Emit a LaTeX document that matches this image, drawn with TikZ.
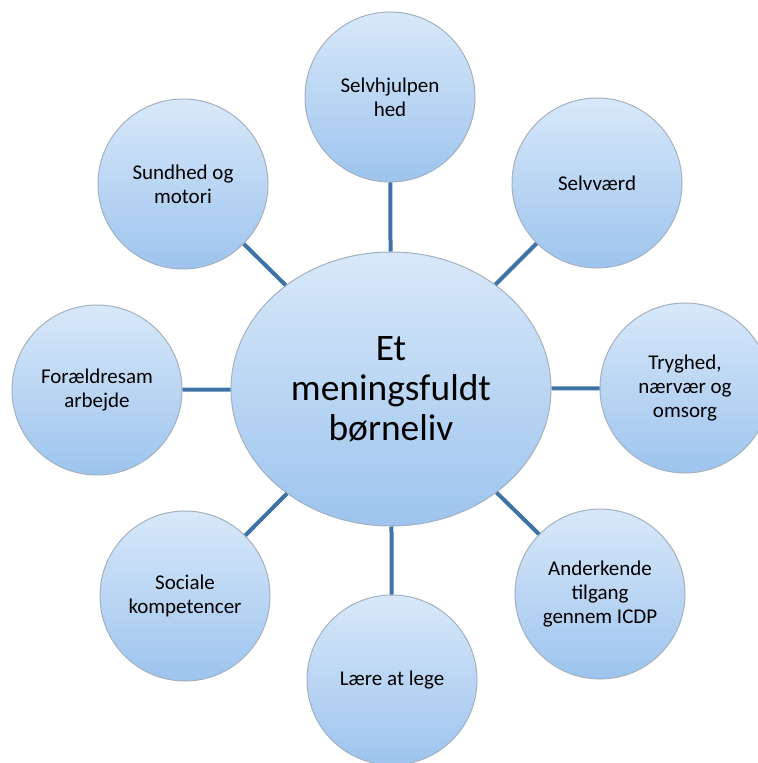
\documentclass[tikz,border=0pt]{standalone}
\usepackage{fontspec}
\setmainfont{Carlito}
\usetikzlibrary{positioning}
\usetikzlibrary{shapes.geometric}
\definecolor{balltop}{HTML}{D8E8F9}
\definecolor{ballbot}{HTML}{9DC4EE}
\definecolor{ballrim}{HTML}{A3B1C0}
\definecolor{linkblue}{HTML}{3F72A6}

\begin{document}
\begin{tikzpicture}[x=0.5pt,y=-0.5pt,
	ball/.style={circle,draw=ballrim,line width=0.5pt,top color=balltop,bottom color=ballbot,
		minimum size=85pt,inner sep=0pt,align=center,font=\fontsize{10.5}{12}\selectfont},
	hub/.style={ellipse,draw=ballrim,line width=0.5pt,top color=balltop,bottom color=ballbot,
		minimum width=160pt,minimum height=137pt,inner sep=0pt,align=center,font=\fontsize{18.7}{20}\selectfont},
	link/.style={draw=linkblue,line width=2pt}
	]
	\useasboundingbox (0,0) rectangle (757,763);
	\node [hub] (hub)		at (391,389)	{Et\\meningsfuldt\\børneliv};
	\node [ball] (selvhjulp)	at (390,97)	{Selvhjulpen\\hed};
	\node [ball] (selvvaerd)	at (597,183)	{Selvværd};
	\node [ball] (tryghed)	at (685,388)	{Tryghed,\\nærvær og\\omsorg};
	\node [ball] (anerkend)	at (600,594)	{Anderkende\\tilgang\\gennem ICDP};
	\node [ball] (leg)		at (392,680)	{Lære at lege};
	\node [ball] (sociale)	at (185,596)	{Sociale\\kompetencer};
	\node [ball] (foraeldre)	at (97,390)	{Forældresam\\arbejde};
	\node [ball] (sundhed)	at (183,184)	{Sundhed og\\motori};

	\draw [link] (hub) to (selvhjulp);
	\draw [link] (hub) to (selvvaerd);
	\draw [link] (hub) to (tryghed);
	\draw [link] (hub) to (anerkend);
	\draw [link] (hub) to (leg);
	\draw [link] (hub) to (sociale);
	\draw [link] (hub) to (foraeldre);
	\draw [link] (hub) to (sundhed);

\end{tikzpicture}
\end{document}
